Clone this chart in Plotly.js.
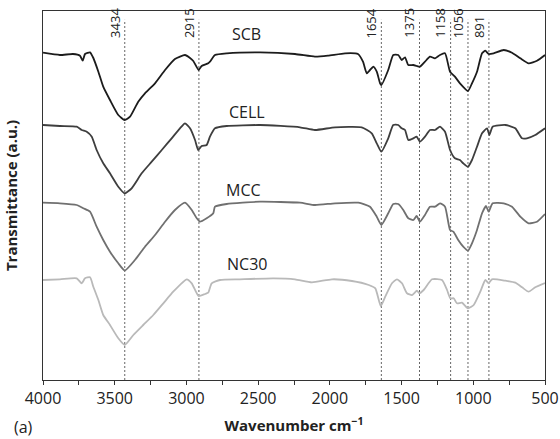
<!DOCTYPE html>
<html>
<head>
<meta charset="utf-8">
<script src="https://cdn.plot.ly/plotly-3.0.1.min.js"></script>
<style>html,body{margin:0;padding:0;background:#fff;}#chart{width:560px;height:439px;}</style>
</head>
<body>
<div id="chart"></div>
<script>
// Wavenumbers (cm^-1) and transmittance (a.u., stacked offsets)
const scbX = [4000,3882,3791,3742,3723,3707,3672,3649,3614,3580,3533,3475,3430,3393,3336,3289,3219,3149,3080,3010,2975,2952,2915,2894,2848,2836,2801,2719,2487,2243,2104,2013,1894,1804,1769,1743,1720,1697,1673,1650,1641,1593,1558,1523,1499,1476,1453,1418,1395,1372,1337,1302,1267,1232,1197,1162,1128,1093,1037,1009,974,939,916,893,858,788,730,672,614,556,500];
const scbY = [327.3,325,326,324.3,319.3,326,327.7,322,308.3,293.3,280,265,260,263.3,278.3,286.7,296.7,310,321,325,322,319,310,314,316.7,318.3,325,326.7,327.7,326,323.3,324.3,326.7,326,318.3,306.7,310,313.3,308.3,296.7,295,310,325,325,320,322.7,315,315,314,313.3,318.3,323.3,321.7,325,326.7,308.3,303.3,296.7,289,296.7,308.3,326.7,329.3,326,326.7,330,327.3,321.7,316.7,319.3,325];

const cellX = [4000,3882,3765,3730,3695,3660,3626,3580,3533,3475,3430,3382,3312,3242,3172,3103,3045,3010,2975,2940,2918,2894,2859,2836,2801,2719,2487,2208,2104,1964,1778,1708,1673,1641,1593,1558,1523,1499,1476,1453,1418,1395,1372,1337,1302,1267,1232,1197,1162,1128,1093,1070,1037,1009,974,939,904,888,865,777,707,660,626,568,500];
const cellY = [255,254,253.3,250,248.3,243.3,230,216.7,206.7,193.3,186.7,191.7,206.7,218.3,230,241.7,251.7,256.7,251.7,240,230,234,235,243.3,251.7,254,255,252.7,250,252.7,252.7,246.7,236.7,228.3,241.7,255,255,251.7,250,240,241.7,243.3,238.3,243.3,250,250,253.3,248.3,230,221.7,220,216.7,213.3,220,233.3,246.7,251.7,245,253.3,255,251.7,241.7,241.7,245,251.7];

const mccX = [4000,3882,3765,3719,3672,3626,3580,3533,3475,3430,3359,3289,3219,3149,3080,3010,2963,2928,2905,2859,2813,2801,2719,2487,2208,2104,1964,1802,1720,1673,1641,1593,1558,1523,1488,1453,1418,1395,1372,1337,1302,1267,1232,1197,1162,1139,1105,1070,1037,1009,974,939,911,893,865,788,730,672,614,556,500];
const mccY = [177.3,176.7,175,171.7,168.3,153.3,140,128.3,116.7,109.5,120,133.3,145,158.3,170,177.3,170,161.7,158.3,161.7,166.7,173.3,176,178.3,177.3,175,176.7,177.3,173.3,163.3,155,166.7,176,176,170,161.7,160,164,158.3,165,173.3,173.3,176.7,173.3,150,148.3,140,133.3,129.3,136.7,150,166.7,174,168.3,176.7,176.7,173.3,163.3,156.7,158.3,166];

const ncX = [4000,3882,3765,3730,3707,3672,3649,3614,3580,3533,3475,3430,3370,3301,3231,3161,3092,2998,2963,2915,2871,2848,2824,2766,2627,2394,2243,2125,1985,1846,1729,1683,1645,1614,1567,1532,1497,1462,1427,1393,1376,1346,1288,1218,1183,1160,1137,1114,1079,1037,997,951,916,893,870,777,707,660,614,568,500];
const ncY = [100,100.7,101.7,96.7,101.7,102.7,93.3,80,65,55,41.7,35,45,55,65,76.7,88.3,100.7,96.7,84,86,87.3,96.7,100,100.7,101.7,100.7,97.7,100.7,99,95,91.7,74,83.3,96.7,100.7,96.7,86.7,85,89.3,86.7,90,100.7,100,90,81.7,81.7,76.7,77.3,71.7,75,88.3,100,96.7,100.7,99.3,97.3,92.7,88.3,92.7,97];

const seriesNames = ['SCB','CELL','MCC','NC30'];
const seriesX = [scbX, cellX, mccX, ncX];
const seriesY = [scbY, cellY, mccY, ncY];
const seriesColors = ['#1c1c1c','#3e3e3e','#707070','#b9b9b9'];
const labelX = [2580, 2580, 2600, 2580];
const labelY = [346, 268, 190, 116];

const peakLabels = ['3434','2915','1654','1375','1158','1056','891'];
const peakPos = [3430, 2913, 1641, 1375, 1158, 1037, 891];

const xTickVals = [4000,3500,3000,2500,2000,1500,1000,500];

const traces = seriesNames.map((n,i)=>({
  type:'scatter', mode:'lines', name:n,
  x: seriesX[i], y: seriesY[i],
  line:{color: seriesColors[i], width:1.8, shape:'spline', smoothing:0.5},
  hoverinfo:'skip'
}));

const shapes = peakPos.map(p=>({
  type:'line', xref:'x', yref:'paper', x0:p, x1:p, y0:0, y1:0.976,
  line:{color:'#666', width:1, dash:'2px,2px'}, layer:'below'
}));

const annotations = [];
peakLabels.forEach((t,i)=>{
  annotations.push({
    text:t, xref:'x', yref:'paper', x:peakPos[i], y:0.921,
    xanchor:'right', yanchor:'bottom', xshift:1, textangle:-90,
    showarrow:false, font:{family:'Open Sans, sans-serif', size:13, color:'#222'}
  });
});
seriesNames.forEach((n,i)=>{
  annotations.push({
    text:n, xref:'x', yref:'y', x:labelX[i], y:labelY[i],
    xanchor:'center', yanchor:'middle', showarrow:false,
    font:{family:'Open Sans, sans-serif', size:16, color:'#222'}
  });
});
annotations.push({
  text:'(a)', xref:'paper', yref:'paper', x:-0.062, y:-0.128,
  xanchor:'left', yanchor:'middle', showarrow:false,
  font:{family:'Open Sans, sans-serif', size:16, color:'#222'}
});

const layout = {
  width:560, height:439,
  margin:{l:43, r:15, t:11, b:59},
  paper_bgcolor:'#fff', plot_bgcolor:'#fff',
  showlegend:false,
  xaxis:{
    range:[4000,500], tickvals:xTickVals, ticks:'outside', ticklen:4, tickwidth:1, tickcolor:'#333',
    minor:{dtick:250, tick0:500, ticks:'outside', ticklen:4, tickwidth:1, tickcolor:'#333'},
    showline:true, mirror:true, linecolor:'#333', linewidth:1.2, showgrid:false, zeroline:false,
    tickfont:{family:'Open Sans, sans-serif', size:16, color:'#222'},
    title:{text:'<b>Wavenumber cm<sup>−1</sup></b>', standoff:12, font:{family:'Open Sans, sans-serif', size:15, color:'#222'}}
  },
  yaxis:{
    range:[0,369], showticklabels:false, ticks:'', showgrid:false, zeroline:false,
    showline:true, mirror:true, linecolor:'#333', linewidth:1.2,
    title:{text:'<b>Transmittance (a.u.)</b>', standoff:20, font:{family:'Open Sans, sans-serif', size:15, color:'#222'}}
  },
  shapes: shapes,
  annotations: annotations
};

Plotly.newPlot('chart', traces, layout, {displayModeBar:false, staticPlot:true});
</script>
</body>
</html>
